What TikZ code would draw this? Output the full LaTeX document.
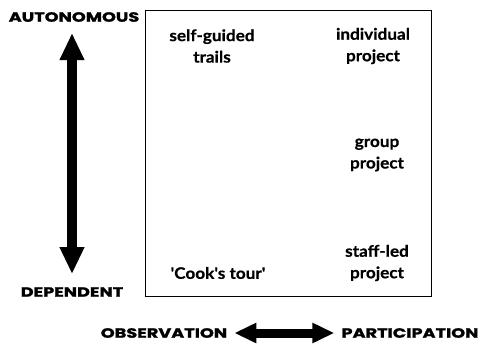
\documentclass[tikz,border=0pt]{standalone}
\usepackage{fontspec}
\usetikzlibrary{arrows.meta}
\newfontfamily\headfont[FakeStretch=1.32,FakeBold=1.5]{Poppins}
\newfontfamily\bodyfont[FakeStretch=1.08,FakeBold=0.6]{Lato}
\begin{document}
\begin{tikzpicture}[x=1pt,y=-1pt,
  head/.style={inner sep=0pt,font=\headfont\bfseries\fontsize{13.4}{14}\selectfont},
  item/.style={inner sep=0pt,align=center,font=\bodyfont\bfseries\fontsize{15.9}{21.5}\selectfont},
  vdblarrow/.style={line width=10pt,{Triangle[width=23pt,length=27pt]}-{Triangle[width=23pt,length=27pt]}},
  dblarrow/.style={line width=9pt,{Triangle[width=19pt,length=22pt]}-{Triangle[width=19pt,length=22pt]}}]
\useasboundingbox (0,0) rectangle (484,343);
\node[draw=black,line width=0.7pt,minimum width=286pt,minimum height=286pt,inner sep=0pt] (box) at (288,153) {};
\node[head] (auto) at (74,17) {AUTONOMOUS};
\node[head] (dep) at (72,292) {DEPENDENT};
\node[head] (obs) at (164,333) {OBSERVATION};
\node[head] (par) at (410,333) {PARTICIPATION};
\node[item] (self) at (212,46) {self-guided\\trails};
\node[item] (indiv) at (373,46) {individual\\project};
\node[item] (group) at (377,155) {group\\project};
\node[item] (staff) at (377,263) {staff-led\\project};
\node[item] (cook) at (218,273) {'Cook's tour'};
\draw[vdblarrow,shorten <=11pt,shorten >=13pt] (auto.south -| 72,0) -- (dep.north -| 72,0);
\draw[dblarrow,shorten <=7pt,shorten >=7pt] (obs.east) -- (par.west);
\end{tikzpicture}
\end{document}
